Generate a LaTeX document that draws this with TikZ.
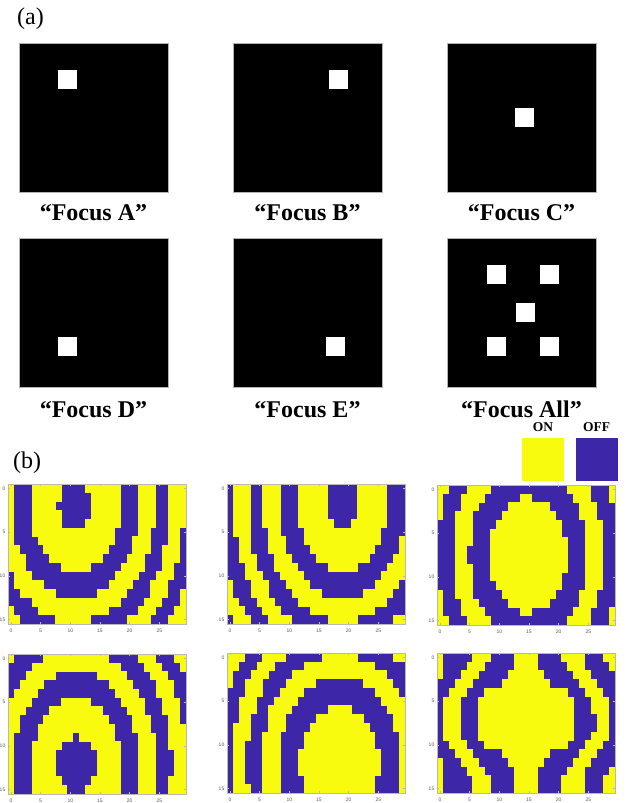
\documentclass[tikz,border=0pt]{standalone}
\usepackage{fontspec}
\setmainfont{Liberation Serif}
\setsansfont{Liberation Sans}
\definecolor{onc}{rgb}{0.9763,0.9831,0.0538}
\definecolor{offc}{rgb}{0.2422,0.1504,0.6603}
\tikzset{
  flabel/.style={font=\fontsize{24}{28}\selectfont\bfseries, anchor=base, inner sep=0pt},
  plabel/.style={font=\fontsize{24}{28}\selectfont, anchor=base west, inner sep=0pt},
  ticklab/.style={font=\fontsize{5}{6}\selectfont\sffamily, text=gray!70!black, inner sep=0pt},
  legtxt/.style={font=\fontsize{13.5}{16}\selectfont\bfseries, anchor=base, inner sep=0pt},
  axbox/.style={draw=gray!55, line width=0.5pt},
  axtick/.style={draw=gray!55, line width=0.4pt},
  blackbox/.style={fill=black, draw=gray!60, line width=0.4pt},
  spot/.style={fill=white},
}
\def\cw{5.9333}
\def\ch{8.75}
% single focus map: #1 left, #2 top, #3 xc, #4 yc, #5 s0, #6 sigma, #7 y-scale, #8 F, #9 half period
\def\MapSingle#1#2#3#4#5#6#7#8#9{%
  \fill[offc] (#1,#2) rectangle ++(178,140);
  \foreach \c in {0,...,29}{%
    \foreach \r in {0,...,15}{%
      \pgfmathsetmacro{\v}{#6*sin(180*(sqrt((\c-#3)*(\c-#3)+(\r-#4)*(\r-#4)*#7*#7+#8*#8)-#5)/#9)}%
      \ifdim\v pt>0pt
        \fill[onc] ({#1+\c*\cw-0.15},{#2+\r*\ch-0.15}) rectangle ++({\cw+0.3},{\ch+0.3});
      \fi
    }%
  }%
}
% yellow run in the "Focus All" map: #1 row, #2 first col, #3 last col
\def\RunAll#1#2#3{%
  \fill[onc] ({437+#2*\cw-0.15},{653+#1*\ch-0.15}) rectangle ({437+(#3+1)*\cw+0.15},{653+(#1+1)*\ch+0.15});
}
% axes: #1 left, #2 top, #3 name prefix
\def\Axes#1#2#3{%
  \draw[axbox] (#1,#2) rectangle ++(178,140);
  \foreach \t in {0,5,10,15,20,25}{%
    \draw[axtick] ({#1+(\t+0.5)*\cw},#2) -- ++(0,1.6);
    \draw[axtick] ({#1+(\t+0.5)*\cw},{#2+140}) -- ++(0,-1.6);
    \node[ticklab] (#3x\t) at ({#1+(\t+0.5)*\cw},{#2+146.5}) {\t};
  }%
  \foreach \t in {0,5,10,15}{%
    \draw[axtick] (#1,{#2+(\t+0.5)*\ch}) -- ++(1.6,0);
    \draw[axtick] ({#1+178},{#2+(\t+0.5)*\ch}) -- ++(-1.6,0);
    \node[ticklab, anchor=east] (#3y\t) at ({#1-2.5},{#2+(\t+0.5)*\ch}) {\t};
  }%
}
\begin{document}
\begin{tikzpicture}[x=1pt,y=-1pt]
\useasboundingbox (0,0) rectangle (628,803);
\fill[white] (0,0) rectangle (628,803);
% ---------- (a)
\node[plabel] (la) at (17,24) {(a)};
\foreach \n/\x/\y in {A/19/43.3, B/233/43.3, C/447/43.3, D/19/238.3, E/233/238.3, F/447/238.3}{
  \fill[blackbox] (\x,\y) rectangle ++(149,149);
}
\foreach \n/\x/\y in {a/58.3/70, b/329.3/70, c/515.3/108.3, d/58.3/336.7, e/325.7/336.7,
  f1/486.7/265, f2/540/265, f3/515.7/303.3, f4/486.7/336.7, f5/540/336.7}{
  \fill[spot] (\x,\y) rectangle ++(19,19);
}
\node[flabel] (tA) at (93.5,220) {“Focus A”};
\node[flabel] (tB) at (307.5,220) {“Focus B”};
\node[flabel] (tC) at (521.5,220) {“Focus C”};
\node[flabel] (tD) at (93.5,417) {“Focus D”};
\node[flabel] (tE) at (307.5,417) {“Focus E”};
\node[flabel] (tF) at (521.5,417) {“Focus All”};
% ---------- (b)
\node[plabel] (lb) at (13,468) {(b)};
\node[legtxt] (on) at (543,431.5) {ON};
\node[legtxt] (off) at (596.5,431.5) {OFF};
\fill[onc] (521.7,438.3) rectangle (564,480.7);
\fill[offc] (575.7,438.3) rectangle (617.7,480.7);
\MapSingle{8}{484}{10.8}{2.0}{10.40}{1}{1}{10}{2.1}
\MapSingle{227}{484}{19.0}{1.8}{10.40}{1}{1}{10}{2.1}
\MapSingle{437}{485}{14.8}{7.5}{11.97}{-1}{1}{10}{2.1}
\MapSingle{8}{654}{11.0}{12.3}{10.54}{1}{1}{10}{2.1}
\MapSingle{227}{653}{18.5}{12.0}{13.8}{-1}{1.075}{12}{2.02}
% Focus All map (transcribed)
\fill[offc] (437,653) rectangle ++(178,140);
\foreach \r in {0,14,15}{\foreach \a/\b in {0/0,6/8,13/16,21/24,28/29}{\RunAll{\r}{\a}{\b}}}
\foreach \r in {1,13}{\foreach \a/\b in {0/0,5/7,13/16,22/24,29/29}{\RunAll{\r}{\a}{\b}}}
\foreach \r in {2,12}{\foreach \a/\b in {0/0,4/6,12/17,23/25}{\RunAll{\r}{\a}{\b}}}
\foreach \r in {3,11}{\foreach \a/\b in {3/5,11/18,24/26}{\RunAll{\r}{\a}{\b}}}
\foreach \r in {4,10}{\foreach \a/\b in {2/4,8/21,25/27}{\RunAll{\r}{\a}{\b}}}
\foreach \r in {5,6,9}{\foreach \a/\b in {1/3,7/22,26/28}{\RunAll{\r}{\a}{\b}}}
\foreach \r in {7,8}{\foreach \a/\b in {1/3,7/22,27/28}{\RunAll{\r}{\a}{\b}}}
\Axes{8}{484}{m1}
\Axes{227}{484}{m2}
\Axes{437}{485}{m3}
\Axes{8}{654}{m4}
\Axes{227}{653}{m5}
\Axes{437}{653}{m6}
\end{tikzpicture}
\end{document}
